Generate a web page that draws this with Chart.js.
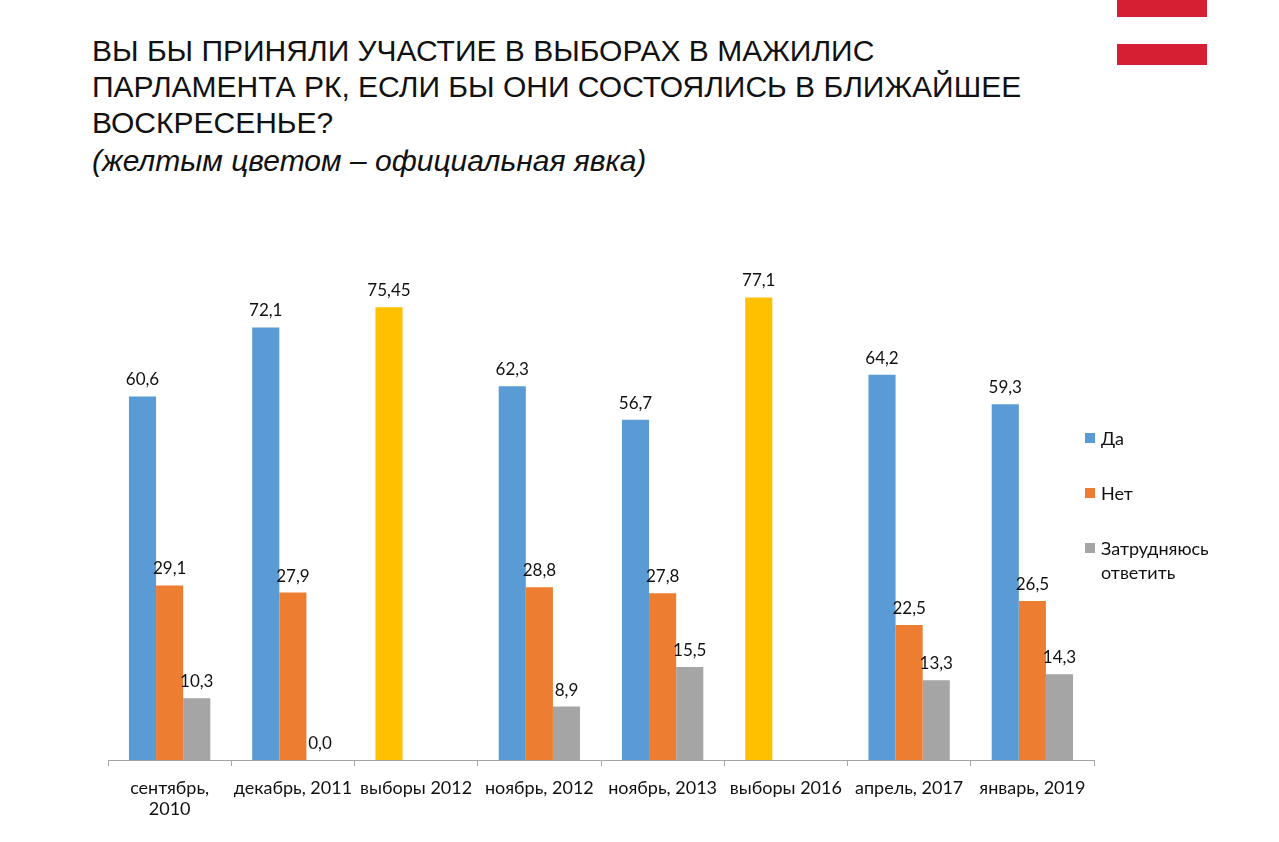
<!DOCTYPE html>
<html>
<head>
<meta charset="utf-8">
<script src="https://cdn.jsdelivr.net/npm/chart.js@4"></script>
<style>
  body { margin: 0; background: #fff; width: 1279px; height: 842px; overflow: hidden; position: relative; }
  #title { position: absolute; left: 92px; top: 33px; font-family: "Liberation Sans", Arial, sans-serif; font-size: 30px; line-height: 36px; color: #111; }
  #title i { display: block; margin-top: 2px; }
  .stripe { position: absolute; left: 1117px; width: 90px; background: #d71f33; }
  #wrap { position: absolute; left: 0; top: 0; width: 1279px; height: 842px; }
  #legend { position: absolute; left: 1085px; top: 426px; font-family: Lato, "Open Sans", sans-serif; font-size: 18px; color: #111; }
  #legend div { position: relative; padding-left: 16px; margin-bottom: 31px; line-height: 24px; }
  #legend span { position: absolute; left: 0; top: 7px; width: 10px; height: 10px; }
</style>
</head>
<body>
<div class="stripe" style="top:0;height:17px"></div>
<div class="stripe" style="top:44px;height:21px"></div>
<div id="title">ВЫ БЫ ПРИНЯЛИ УЧАСТИЕ В ВЫБОРАХ В МАЖИЛИС<br>ПАРЛАМЕНТА РК, ЕСЛИ БЫ ОНИ СОСТОЯЛИСЬ В БЛИЖАЙШЕЕ<br>ВОСКРЕСЕНЬЕ?<i>(желтым цветом – официальная явка)</i></div>
<div id="wrap"><canvas id="bar-chart"></canvas></div>
<div id="legend"></div>
<script>
// Data
const categories = [["сентябрь,", "2010"], "декабрь, 2011", "выборы 2012", "ноябрь, 2012", "ноябрь, 2013", "выборы 2016", "апрель, 2017", "январь, 2019"];
const yesValues = [60.6, 72.1, 75.45, 62.3, 56.7, 77.1, 64.2, 59.3];
const noValues = [29.1, 27.9, null, 28.8, 27.8, null, 22.5, 26.5];
const hardValues = [10.3, 0.0, null, 8.9, 15.5, null, 13.3, 14.3];
const seriesNames = ["Да", "Нет", ["Затрудняюсь", "ответить"]];
const electionCats = ["выборы 2012", "выборы 2016"];

const blue = "#5b9bd5", orange = "#ed7d31", grey = "#a5a5a5", yellow = "#ffc000";
const yesColors = categories.map(c => electionCats.includes(c) ? yellow : blue);

// value labels above every bar
const valueLabels = {
  id: "valueLabels",
  afterDatasetsDraw(chart) {
    const ctx = chart.ctx;
    ctx.save();
    ctx.font = "17px Lato, 'Open Sans', sans-serif";
    ctx.fillStyle = "#111";
    ctx.textAlign = "center";
    ctx.textBaseline = "bottom";
    chart.data.datasets.forEach((ds, i) => {
      chart.getDatasetMeta(i).data.forEach((bar, j) => {
        const v = ds.data[j];
        if (v === null) return;
        let txt = v.toFixed(ds.decimals ? ds.decimals[j] : 1).replace(".", ",");
        ctx.fillText(txt, bar.x, bar.y - 8);
      });
    });
    ctx.restore();
  }
};

new Chart(document.getElementById("bar-chart"), {
  type: "bar",
  data: {
    labels: categories,
    datasets: [
      { label: "Да", data: yesValues, backgroundColor: yesColors, decimals: yesValues.map(v => v === 75.45 ? 2 : 1) },
      { label: "Нет", data: noValues, backgroundColor: orange },
      { label: "Затрудняюсь ответить", data: hardValues, backgroundColor: grey }
    ]
  },
  options: {
    responsive: true,
    maintainAspectRatio: false,
    animation: false,
    categoryPercentage: 0.66,
    barPercentage: 1,
    layout: { padding: { left: 108, right: 185, top: 220, bottom: 0 } },
    plugins: { legend: { display: false }, tooltip: { enabled: false } },
    scales: {
      y: { display: false, min: 0, max: 90 },
      x: {
        afterFit(scale) { scale.height = 82; },
        grid: { offset: true, drawOnChartArea: false, drawTicks: true, tickLength: 6, color: "#a6a6a6" },
        border: { display: true, color: "#a6a6a6" },
        ticks: { color: "#111", font: { family: "Lato, 'Open Sans', sans-serif", size: 18 }, maxRotation: 0, autoSkip: false, padding: 11 }
      }
    }
  },
  plugins: [valueLabels]
});

// legend built from the series names
const legendColors = [blue, orange, grey];
document.getElementById("legend").innerHTML = seriesNames.map((n, i) =>
  '<div><span style="background:' + legendColors[i] + '"></span>' + [].concat(n).join("<br>") + '</div>').join("");
</script>
</body>
</html>
